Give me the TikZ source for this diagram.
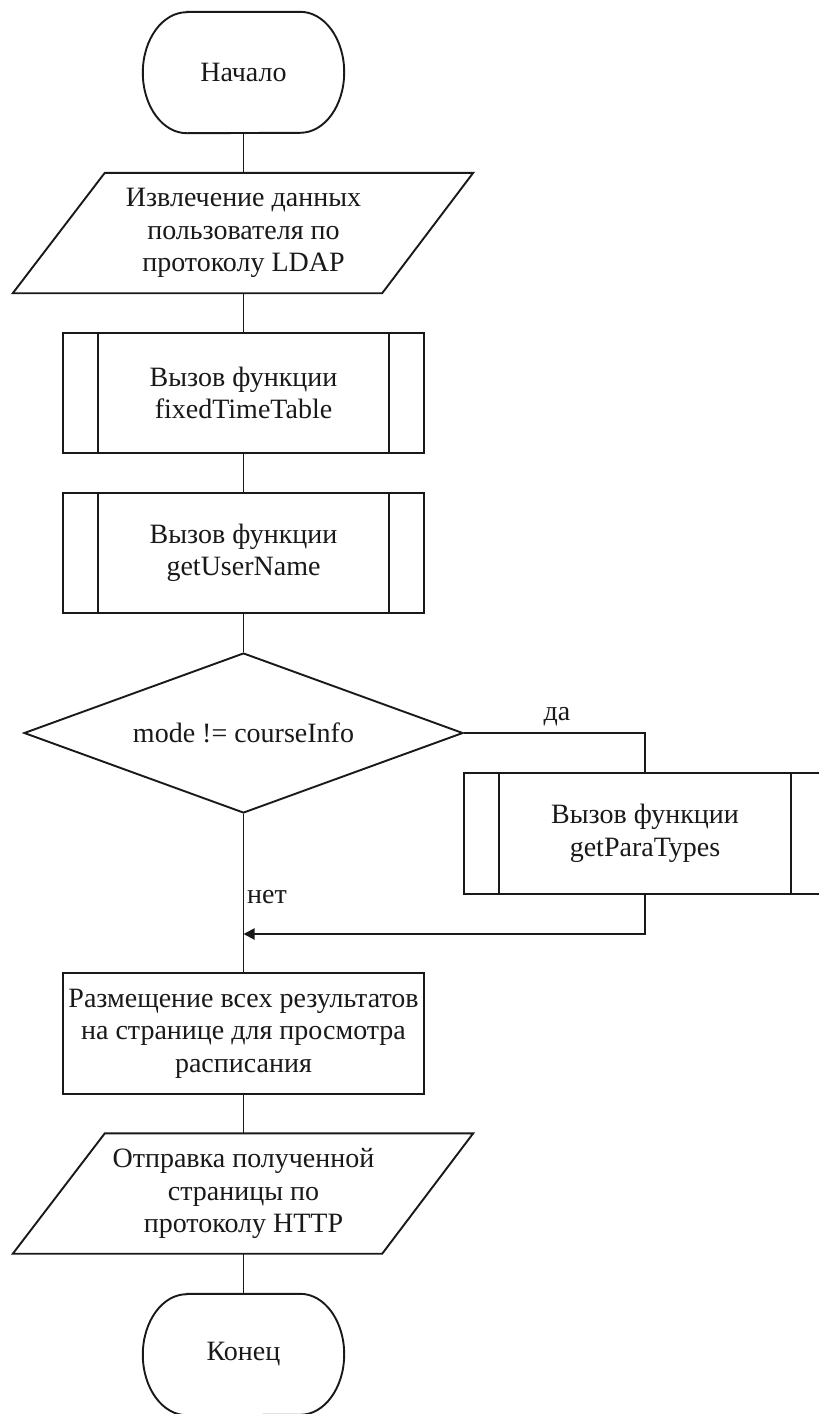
\documentclass[tikz,border=0pt]{standalone}
\usepackage{fontspec}
\setmainfont{Liberation Serif}
\usetikzlibrary{shapes.geometric,arrows.meta}

\tikzset{
  line/.style={draw=black!90, line width=1.9pt},
  txt/.style={font=\fontsize{28}{32.5}\selectfont, text=black!90, align=center, inner sep=0pt},
  termbox/.style={txt, minimum width=201pt, minimum height=121pt},
  iobox/.style={txt, minimum width=277pt, minimum height=120pt},
  subbox/.style={txt, line, minimum width=361pt, minimum height=120pt},
  procbox/.style={txt, line, minimum width=361pt, minimum height=121pt},
  decbox/.style={txt, line, diamond, aspect=2.75, minimum width=439pt, minimum height=160pt},
  lbl/.style={font=\fontsize{28}{32.5}\selectfont, text=black!90, inner sep=0pt},
  flow/.style={line},
  arrowflow/.style={line, -{Triangle[length=11pt,width=11pt]}},
}

% terminator outline: straight top/bottom, elliptic ends
\newcommand{\terminal}[1]{%
  \draw[line] ([xshift=44pt]#1.north west) -- ([xshift=-44pt]#1.north east)
    arc[start angle=90, end angle=-90, x radius=44pt, y radius=60.5pt]
    -- ([xshift=44pt]#1.south west)
    arc[start angle=270, end angle=90, x radius=44pt, y radius=60.5pt] -- cycle;}
% input/output parallelogram around the inner rectangle of a node
\newcommand{\ioshape}[1]{%
  \draw[line] (#1.north west) -- ([xshift=91pt]#1.north east)
    -- (#1.south east) -- ([xshift=-92pt]#1.south west) -- cycle;}
% predefined-process side bars
\newcommand{\subbars}[1]{%
  \draw[line] ([xshift=36pt]#1.north west) -- ([xshift=36pt]#1.south west);
  \draw[line] ([xshift=-36pt]#1.north east) -- ([xshift=-36pt]#1.south east);}

\begin{document}
\begin{tikzpicture}[x=1pt, y=-1pt]
  \clip (0,0) rectangle (819,1414);
  \fill[white] (0,0) rectangle (819,1414);

  % main column
  \node[termbox] (start) at (243.5,72.5) {Начало};
  \terminal{start}
  \node[iobox] (in) at (243.5,233) {Извлечение данных\\пользователя по\\протоколу LDAP};
  \ioshape{in}
  \node[subbox] (fixed) at (243.5,393) {Вызов функции\\fixedTimeTable};
  \subbars{fixed}
  \node[subbox] (user) at (243.5,553) {Вызов функции\\getUserName};
  \subbars{user}
  \node[decbox] (mode) at (243.5,733) {mode != courseInfo};
  \node[subbox, minimum width=362pt, minimum height=121pt] (para) at (645,833.5) {Вызов функции\\getParaTypes};
  \subbars{para}
  \coordinate (join) at (243.5,934);
  \node[procbox] (place) at (243.5,1033.5) {Размещение всех результатов\\на странице для просмотра\\расписания};
  \node[iobox] (out) at (243.5,1193.5) {Отправка полученной\\страницы по\\протоколу HTTP};
  \ioshape{out}
  \node[termbox] (stop) at (243.5,1354.5) {Конец};
  \terminal{stop}

  % connectors
  \draw[flow] (start.south) -- (in.north);
  \draw[flow] (in.south) -- (fixed.north);
  \draw[flow] (fixed.south) -- (user.north);
  \draw[flow] (user.south) -- (mode.north);
  \draw[flow] (mode.east) -- (mode.east -| para.north) -- (para.north);
  \draw[flow] (mode.south) -- (place.north);
  \draw[arrowflow] (para.south) |- (join);
  \draw[flow] (place.south) -- (out.north);
  \draw[flow] (out.south) -- (stop.north);

  % branch labels
  \node[lbl] (yes) at (557,717) {да};
  \node[lbl, anchor=west] (no) at (247,897) {нет};
\end{tikzpicture}
\end{document}
